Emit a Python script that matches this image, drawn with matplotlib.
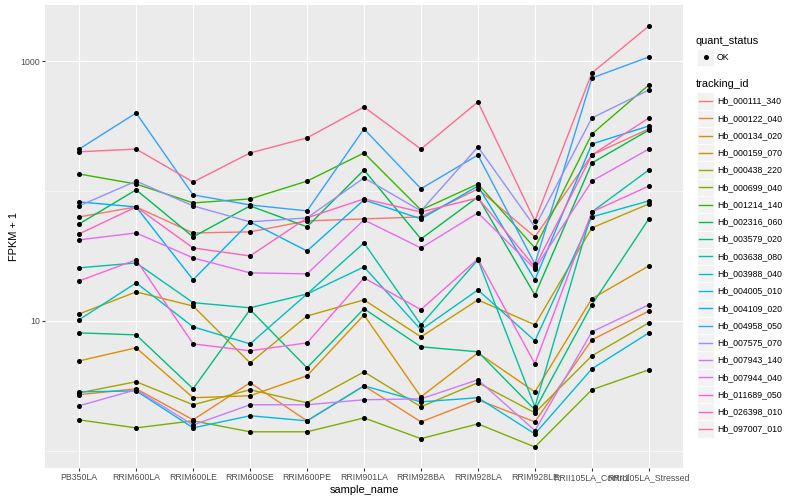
import numpy as np
import matplotlib.pyplot as plt
from matplotlib.patches import Rectangle
from matplotlib.ticker import FixedLocator, NullFormatter

plt.rcParams['font.family'] = ['Liberation Sans', 'DejaVu Sans']

# ---- data (FPKM + 1) ----
samples = ['PB350LA', 'RRIM600LA', 'RRIM600LE', 'RRIM600SE', 'RRIM600PE', 'RRIM901LA',
           'RRIM928BA', 'RRIM928LA', 'RRIM928LE', 'RRII105LA_Control', 'RRII105LA_Stressed']

tracking_ids = ['Hb_000111_340', 'Hb_000122_040', 'Hb_000134_020', 'Hb_000159_070',
                'Hb_000438_220', 'Hb_000699_040', 'Hb_001214_140', 'Hb_002316_060',
                'Hb_003579_020', 'Hb_003638_080', 'Hb_003988_040', 'Hb_004005_010',
                'Hb_004109_020', 'Hb_004958_050', 'Hb_007575_070', 'Hb_007943_140',
                'Hb_007944_040', 'Hb_011689_050', 'Hb_026398_010', 'Hb_097007_010']

hb_000111_340 = [63.1, 75.3, 47.5, 48.4, 58.8, 60.9, 63.1, 103.6, 44.3, 189, 300]
hb_000122_040 = [2.70, 3.00, 1.73, 3.34, 1.70, 3.16, 1.67, 2.47, 1.67, 7.14, 11.9]
hb_000134_020 = [4.92, 6.20, 2.56, 2.65, 3.78, 11.1, 2.60, 5.67, 2.84, 14.8, 26.5]
hb_000159_070 = [11.3, 16.7, 13.0, 4.75, 10.9, 14.5, 7.53, 14.5, 9.32, 51.9, 79.4]
hb_000438_220 = [2.79, 3.40, 2.26, 2.95, 2.34, 4.05, 2.18, 3.34, 1.96, 5.38, 9.66]
hb_000699_040 = [1.73, 1.50, 1.70, 1.40, 1.40, 1.79, 1.24, 1.61, 1.07, 2.95, 4.20]
hb_001214_140 = [135, 113, 80.9, 86.8, 119, 196, 71.4, 113, 36.4, 274, 654]
hb_002316_060 = [55.7, 102, 44.3, 76.7, 52.9, 145, 42.7, 89.9, 15.8, 164, 294]
hb_003579_020 = [8.08, 7.80, 3.00, 12.2, 4.35, 12.4, 6.31, 5.78, 2.07, 13.3, 60.9]
hb_003638_080 = [25.6, 27.9, 13.8, 12.6, 16.1, 39.8, 9.32, 29.5, 2.18, 68.9, 145]
hb_003988_040 = [10.2, 19.6, 8.99, 6.65, 16.1, 26.0, 8.53, 17.3, 7.02, 63.1, 83.8]
hb_004005_010 = [2.84, 2.89, 1.50, 1.86, 1.70, 3.16, 2.38, 2.56, 1.35, 4.27, 8.08]
hb_004109_020 = [82.3, 75.3, 20.7, 57.8, 34.5, 85.3, 60.9, 109, 20.7, 230, 316]
hb_004958_050 = [210, 398, 93.2, 78.0, 70.2, 300, 104, 189, 27.4, 740, 1074]
hb_007575_070 = [76.7, 119, 76.7, 57.8, 62.0, 126, 70.2, 218, 52.9, 364, 598]
hb_007943_140 = [2.22, 2.95, 1.58, 2.26, 2.26, 2.47, 2.51, 3.52, 1.43, 8.23, 13.3]
hb_007944_040 = [42.0, 47.5, 30.5, 23.4, 23.0, 59.8, 36.4, 67.7, 25.1, 119, 210]
hb_011689_050 = [20.3, 29.5, 6.65, 5.88, 6.77, 21.4, 12.2, 30.0, 4.67, 68.9, 109]
hb_026398_010 = [46.7, 75.3, 36.4, 31.6, 62.0, 86.8, 68.9, 88.3, 26.0, 189, 364]
hb_097007_010 = [200, 210, 117, 196, 256, 443, 210, 484, 58.8, 809, 1858]

fpkm = [hb_000111_340, hb_000122_040, hb_000134_020, hb_000159_070, hb_000438_220,
        hb_000699_040, hb_001214_140, hb_002316_060, hb_003579_020, hb_003638_080,
        hb_003988_040, hb_004005_010, hb_004109_020, hb_004958_050, hb_007575_070,
        hb_007943_140, hb_007944_040, hb_011689_050, hb_026398_010, hb_097007_010]

# ggplot default hue palette, 20 levels
colors = ['#F8766D', '#EA8331', '#D89000', '#C09B00', '#A3A500', '#7CAE00', '#39B600',
          '#00BB4E', '#00BF7D', '#00C1A3', '#00BFC4', '#00BAE0', '#00B0F6', '#35A2FF',
          '#9590FF', '#C77CFF', '#E76BF3', '#FA62DB', '#FF62BC', '#FF6C91']

# ---- plot ----
fig = plt.figure(figsize=(8, 5), dpi=100)
ax = fig.add_axes([45 / 800, 32 / 500, 638 / 800, 463 / 500])
ax.set_facecolor('#EBEBEB')

x = np.arange(len(samples))
for vals, col in zip(fpkm, colors):
    ax.plot(x, vals, color=col, lw=1.0, zorder=3)
for vals in fpkm:
    ax.plot(x, vals, 'o', color='black', ms=2.6, zorder=4, linestyle='none')

ax.set_yscale('log')
allv = np.concatenate([np.array(v) for v in fpkm])
lo, hi = np.log10(allv.min()), np.log10(allv.max())
pad = (hi - lo) * 0.05
ax.set_ylim(10 ** (lo - pad), 10 ** (hi + pad))
ax.set_xlim(-0.6, len(samples) - 0.4)

ax.set_xticks(x)
ax.set_xticklabels(samples)
ax.yaxis.set_major_locator(FixedLocator([10, 1000]))
ax.set_yticklabels(['10', '1000'])
ax.yaxis.set_minor_locator(FixedLocator([1, 100]))
ax.yaxis.set_minor_formatter(NullFormatter())
ax.tick_params(which='minor', length=0)
ax.tick_params(which='major', length=2, width=0.8, color='#333333',
               labelsize=6.3, labelcolor='#4D4D4D', pad=1.6)
ax.grid(which='major', color='white', lw=0.8)
ax.grid(which='minor', axis='y', color='white', lw=0.4)
ax.set_axisbelow(True)
for s in ax.spines.values():
    s.set_visible(False)

ax.set_xlabel('sample_name', fontsize=7.9, labelpad=2)
ax.set_ylabel('FPKM + 1', fontsize=7.9, labelpad=1)

# ---- legends (drawn by hand, ggplot style) ----
lax = fig.add_axes([0, 0, 1, 1])
lax.set_xlim(0, 800)
lax.set_ylim(500, 0)
lax.axis('off')

lax.text(696, 41, 'quant_status', fontsize=7.9, va='center')
lax.add_patch(Rectangle((697, 48.5), 17, 17, facecolor='#F2F2F2', edgecolor='white', lw=0.5))
lax.plot(705.5, 57, 'o', color='black', ms=2.6)
lax.text(717, 57, 'OK', fontsize=6.3, va='center')

lax.text(696, 84, 'tracking_id', fontsize=7.9, va='center')
step = 17.27
for i, (tid, col) in enumerate(zip(tracking_ids, colors)):
    yc = 101 + i * step
    lax.add_patch(Rectangle((697, yc - step / 2), 17, step, facecolor='#F2F2F2',
                            edgecolor='white', lw=0.5))
    lax.plot([699, 712], [yc, yc], color=col, lw=1.0)
    lax.text(717, yc, tid, fontsize=6.3, va='center')

fig.savefig('out.png', dpi=100)
